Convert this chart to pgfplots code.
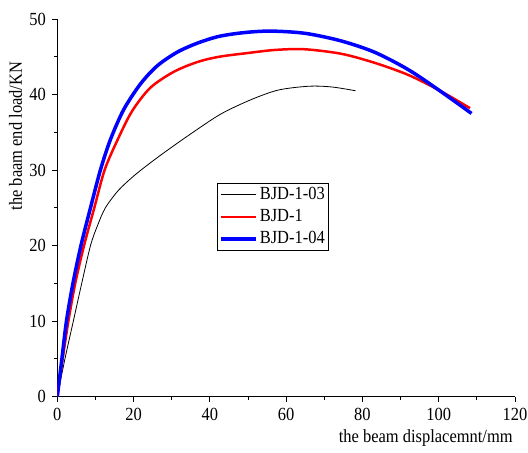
\documentclass[border=0pt]{standalone}
\usepackage{pgfplots}
\pgfplotsset{compat=1.18}
\usepackage{fontspec}
\setmainfont{Liberation Serif}[FakeStretch=0.89]
\begin{document}
\fontsize{18.5bp}{21bp}\selectfont
\begin{tikzpicture}
\useasboundingbox (-57.3bp,-56.3bp) rectangle (470.7bp,396.7bp);
\begin{axis}[
  scale only axis,
  width=457.7bp, height=377.7bp,
  xmin=0, xmax=120, ymin=0, ymax=50,
  axis x line*=bottom, axis y line*=left,
  axis line style={-, line width=0.9bp},
  xtick={0,20,...,120}, ytick={0,10,...,50},
  minor tick num=1,
  tick align=outside,
  major tick length=5bp, minor tick length=3bp,
  every tick/.style={black, line width=0.9bp},
  /pgf/number format/assume math mode=true,
  ticklabel style={font=\fontsize{18.5bp}{21bp}\selectfont},
  xlabel={the beam displacemnt/mm},
  ylabel={the baam end load/KN},
  label style={font=\fontsize{18.5bp}{21bp}\selectfont},
  xlabel style={at={(rel axis cs:1,0)}, anchor=north east, yshift=-27bp, xshift=4bp},
  ylabel style={at={(rel axis cs:0,0.69)}, anchor=south, yshift=29bp},
  legend style={at={(rel axis cs:0.349,0.566)}, anchor=north west, draw=black, line width=0.6bp,
     font=\fontsize{18.5bp}{21bp}\selectfont, inner sep=2bp, row sep=3bp},
  legend cell align=left,
  legend image code/.code={\draw[#1] (0bp,0bp) -- (35bp,0bp);},
]
\addplot[black, line width=0.8bp, smooth] coordinates {
(0,0) (2,5) (4.2,10) (6.4,15) (8.7,20) (10.5,22.6) (12.6,25) (16,27.3) (20,29.2) (24.5,31) (28.8,32.6) (35,34.8) (42.8,37.4) (50.7,39.3) (58,40.6) (66,41.1) (72,41) (78.2,40.5)
};
\addlegendentry{BJD-1-03}
\addplot[red, line width=2.5bp, smooth] coordinates {
(0,0) (1.4,5) (2.9,10) (4.7,15) (7.0,20) (9.7,25) (12.4,30) (15.8,34) (19.6,37.8) (24.4,40.9) (30.5,43.0) (36.7,44.3) (42.4,45.0) (50,45.5) (57,45.9) (64.7,46.0) (74.4,45.4) (83.2,44.2) (92,42.6) (100,40.6) (108.2,38.2)
};
\addlegendentry{BJD-1}
\addplot[blue, line width=3.5bp, smooth] coordinates {
(0,0) (1.2,5) (2.4,10) (4.1,15) (6.2,20) (8.7,25) (11.3,30) (13.9,34) (17.4,38) (21.8,41.4) (26.2,43.8) (31.4,45.6) (36.7,46.8) (42.4,47.7) (49,48.2) (56,48.4) (65,48.1) (74.4,47.1) (83.2,45.6) (92,43.3) (100,40.6) (108.6,37.5)
};
\addlegendentry{BJD-1-04}
\end{axis}
\end{tikzpicture}
\end{document}
